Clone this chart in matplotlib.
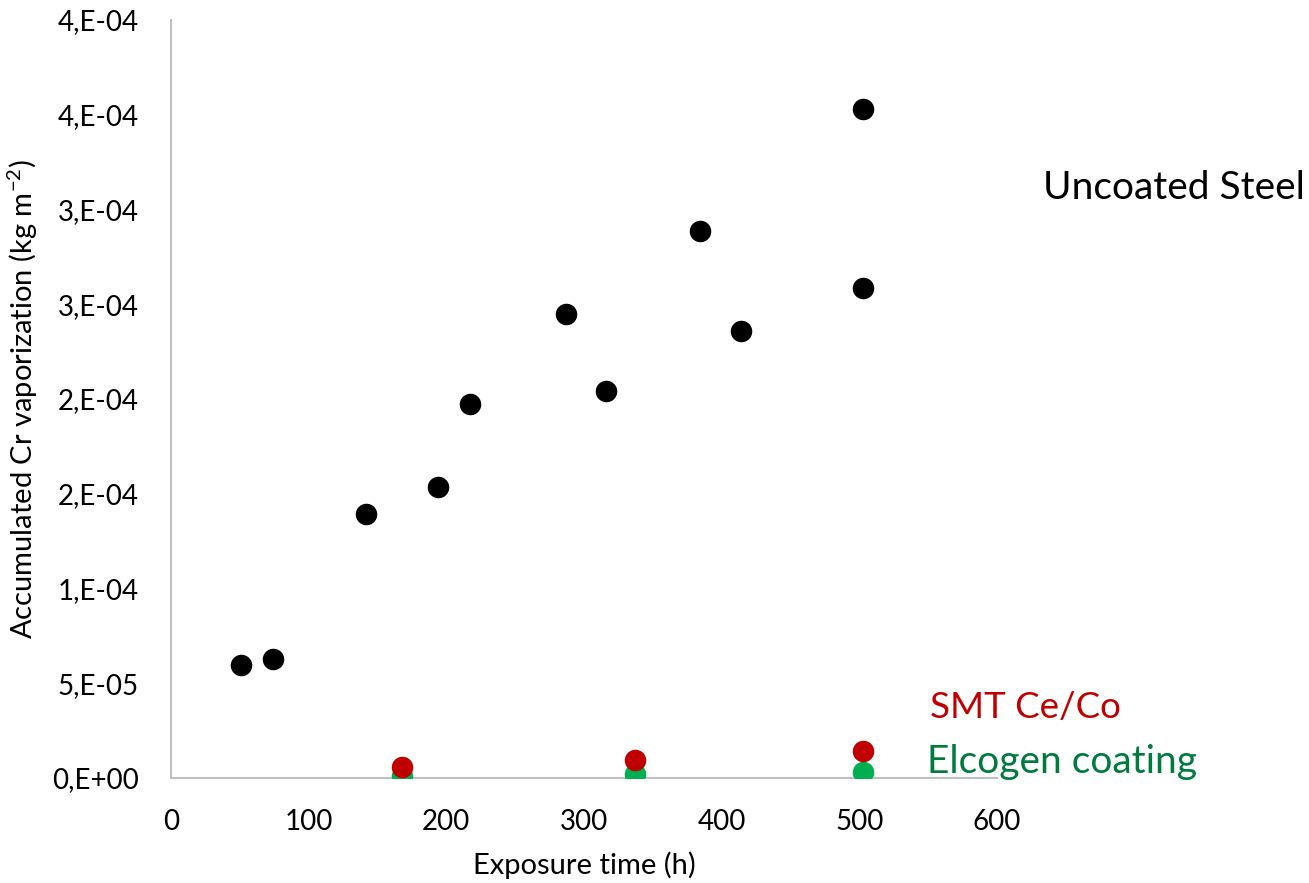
import numpy as np
import matplotlib.pyplot as plt

plt.rcParams['font.family'] = ['Lato', 'DejaVu Sans']
plt.rcParams['mathtext.fontset'] = 'custom'
plt.rcParams['mathtext.rm'] = 'Lato'

# Uncoated steel
steel_h = [51, 74, 142, 194, 217, 287, 316, 384, 414, 503, 503]
steel_cr = [5.97e-5, 6.29e-5, 1.395e-4, 1.538e-4, 1.971e-4, 2.447e-4,
            2.04e-4, 2.886e-4, 2.357e-4, 3.53e-4, 2.584e-4]

# SMT Ce/Co coated
smt_h = [168, 337, 503]
smt_cr = [6.0e-6, 9.5e-6, 1.40e-5]

# Elcogen coating
elc_h = [168, 337, 503]
elc_cr = [1.0e-6, 2.3e-6, 3.3e-6]

y_ticks = np.arange(0, 4.5e-4, 5e-5)
y_labels = ["0,E+00", "5,E-05", "1,E-04", "2,E-04", "2,E-04",
            "3,E-04", "3,E-04", "4,E-04", "4,E-04"]
x_ticks = [0, 100, 200, 300, 400, 500, 600]

W, H = 1309, 883
fig = plt.figure(figsize=(W / 100, H / 100), dpi=100)
ax = fig.add_axes([171 / W, 105 / H, 826 / W, 758 / H])

ax.scatter(steel_h, steel_cr, s=210, color="black", zorder=3)
ax.scatter(elc_h, elc_cr, s=210, color="#00B050", zorder=3)
ax.scatter(smt_h, smt_cr, s=210, color="#C00000", zorder=4)

ax.set_xlim(0, 600)
ax.set_ylim(0, 4e-4)
ax.set_xticks(x_ticks)
ax.set_yticks(y_ticks, y_labels)
ax.tick_params(length=0, labelsize=20, colors="black")
ax.tick_params(axis="y", pad=23)
ax.tick_params(axis="x", pad=22)

for side in ["top", "right"]:
    ax.spines[side].set_visible(False)
for side in ["left", "bottom"]:
    ax.spines[side].set_color("#BFBFBF")
    ax.spines[side].set_linewidth(1.5)

ax.set_xlabel("Exposure time (h)", fontsize=21, labelpad=12)
ax.set_ylabel(r"Accumulated Cr vaporization (kg m$^{\mathregular{-2}}$)",
              fontsize=21)
ax.yaxis.set_label_coords(-131 / 826, 0.5)

fig.text(1043 / W, 1 - 188 / H, "Uncoated Steel",
         fontsize=28, color="black", va="center", ha="left")
fig.text(930 / W, 1 - 708 / H, "SMT Ce/Co",
         fontsize=26.5, color="#C00000", va="center", ha="left")
fig.text(927 / W, 1 - 762 / H, "Elcogen coating",
         fontsize=28, color="#007A3D", va="center", ha="left")

fig.savefig("out.png", dpi=100)
